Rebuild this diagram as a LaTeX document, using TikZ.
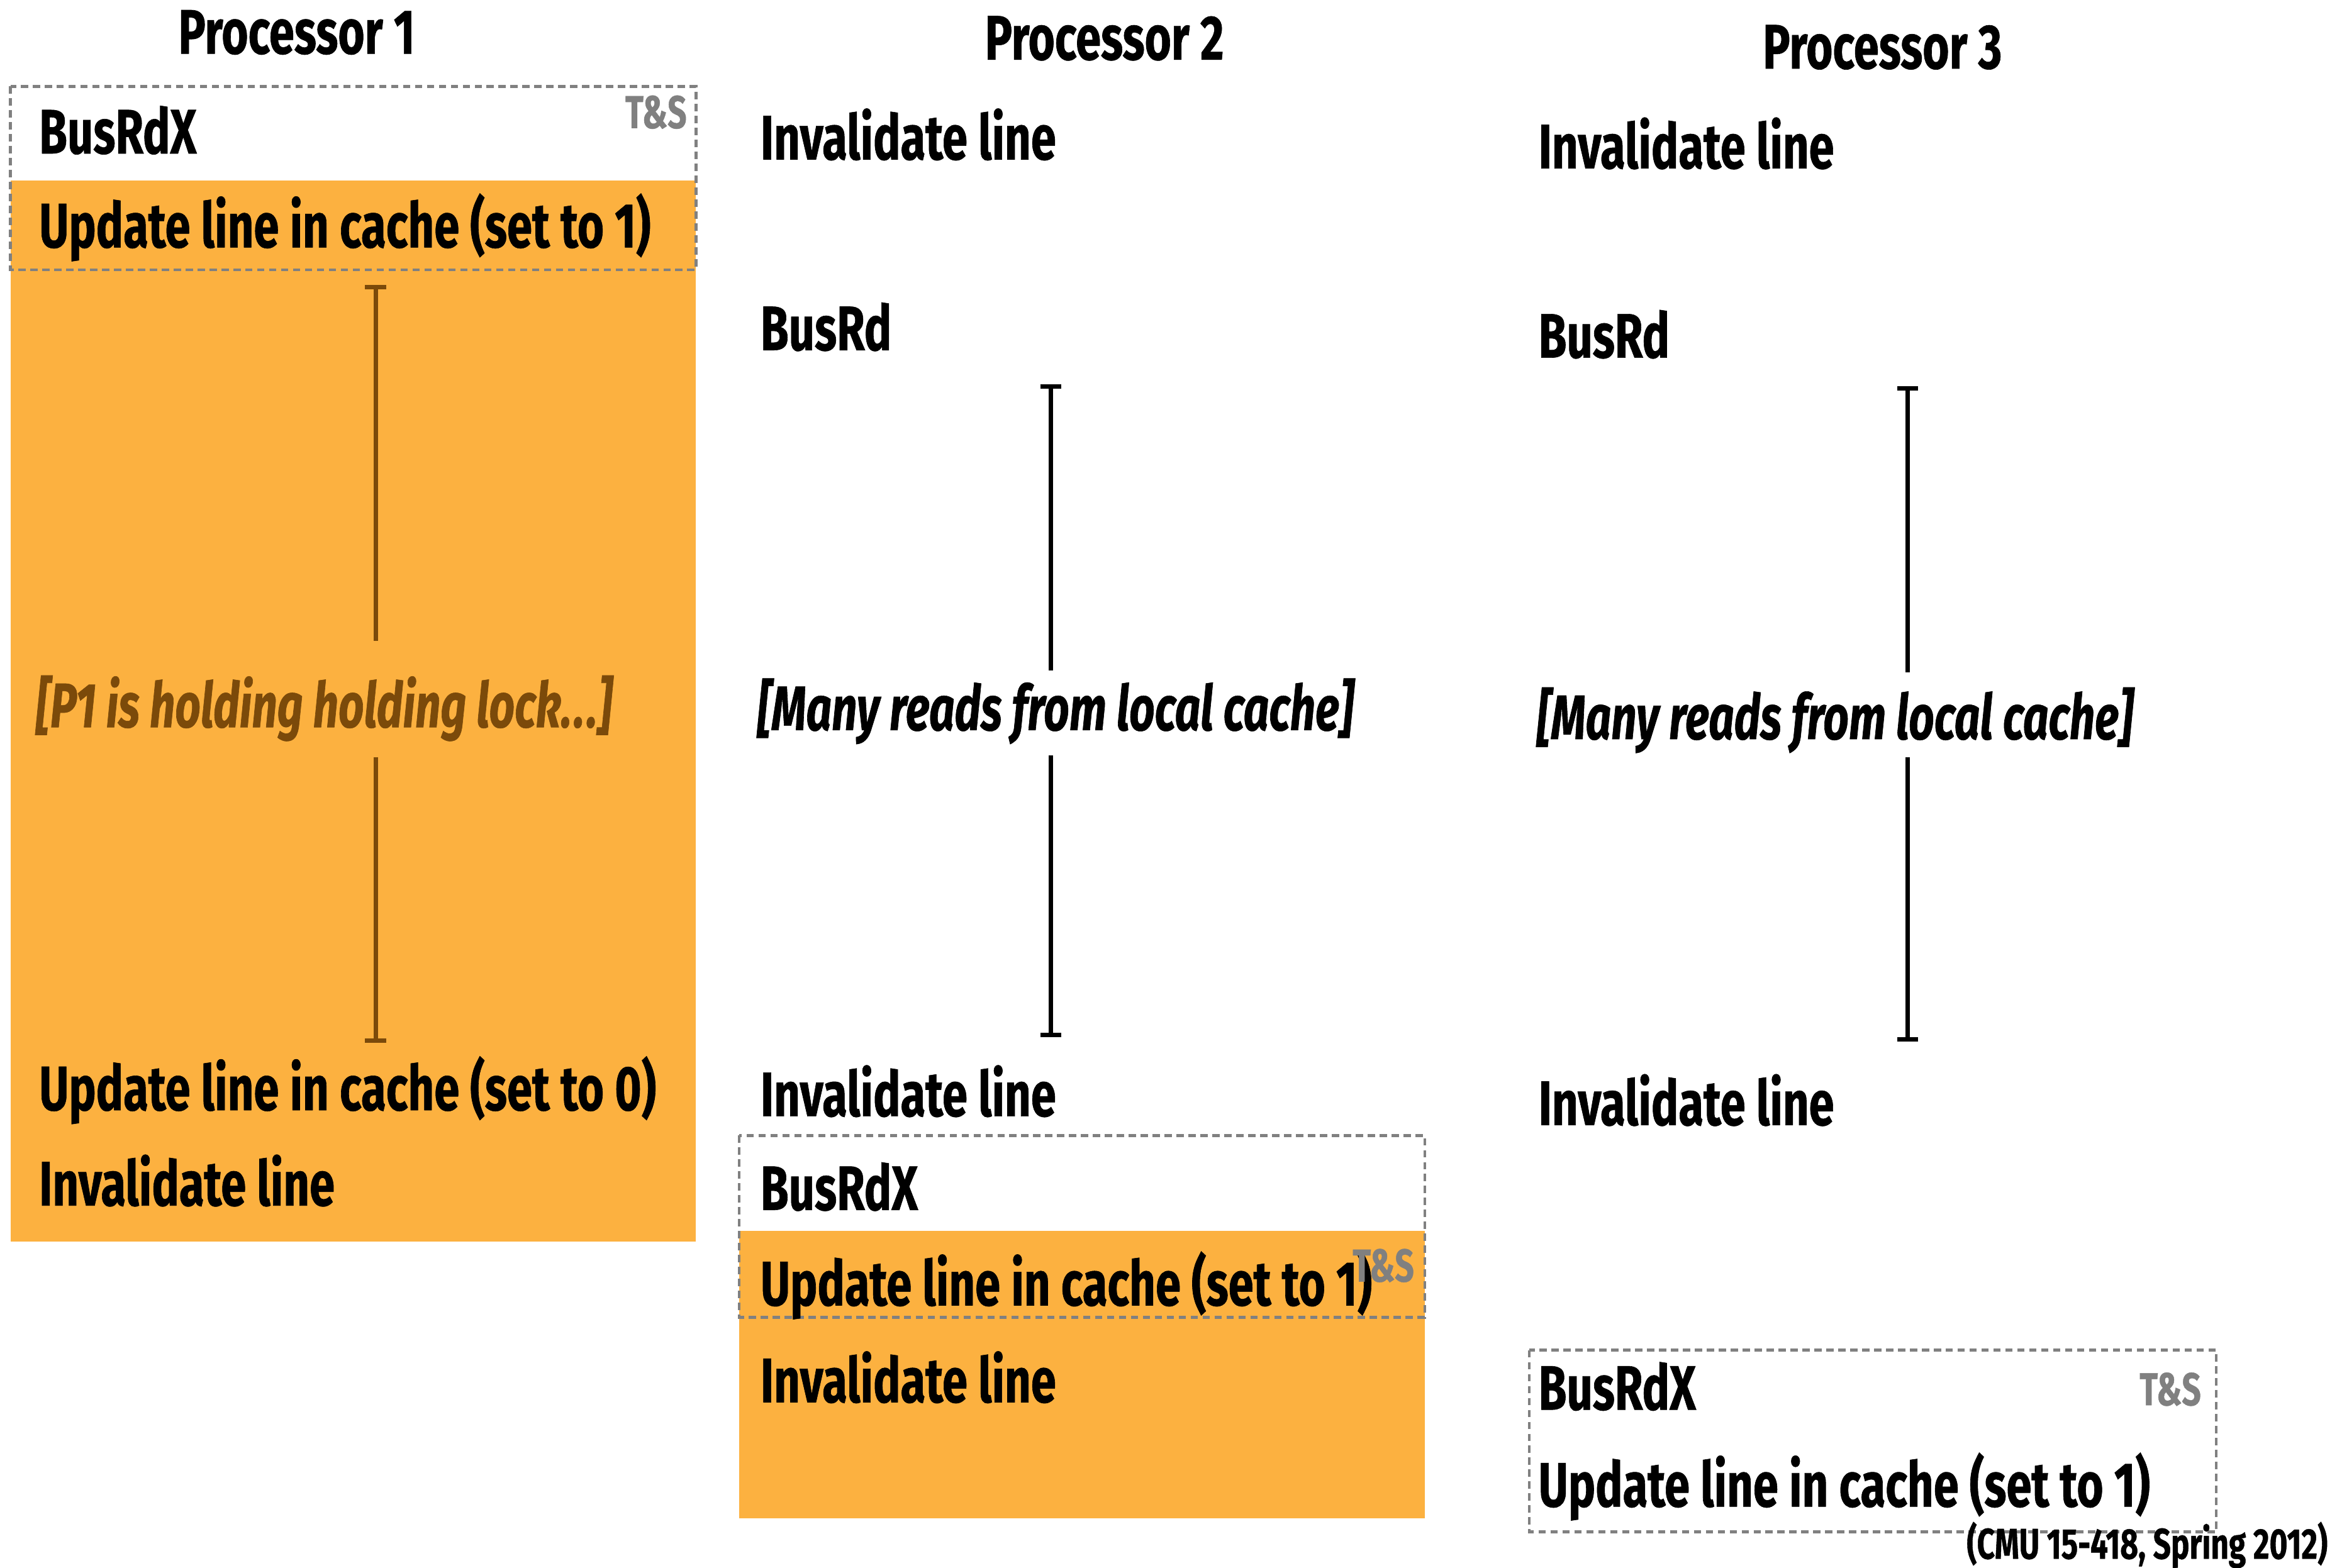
\documentclass[tikz,border=0pt]{standalone}
\usepackage{fontspec}
\setmainfont{Fira Sans}[FakeStretch=0.725,
  BoldFeatures={FakeStretch=0.725,FakeBold=0.6},
  BoldItalicFeatures={FakeStretch=0.71,FakeBold=0.6}]
\usetikzlibrary{arrows.meta}
\definecolor{lockorange}{RGB}{252,177,64}
\definecolor{lockbrown}{RGB}{123,74,10}
\definecolor{dashgray}{RGB}{128,128,128}
\begin{document}
\begin{tikzpicture}[x=0.025cm,y=-0.025cm,
  txt/.style={font=\bfseries\fontsize{30}{36}\selectfont, inner sep=0pt, anchor=base west},
  ital/.style={txt, font=\bfseries\itshape\fontsize{30}{36}\selectfont},
  title/.style={font=\bfseries\fontsize{30}{36}\selectfont, inner sep=0pt, anchor=base},
  ts/.style={font=\bfseries\fontsize{22}{26}\selectfont, text=dashgray, inner sep=0pt, anchor=base east},
  note/.style={font=\bfseries\fontsize{20.5}{24}\selectfont, inner sep=0pt, anchor=base east},
  tsbox/.style={draw=dashgray, line width=1.4pt, dash pattern=on 3.5pt off 2.2pt},
  crit/.style={fill=lockorange},
  ibar/.style={line width=2.1pt},
  ibartop/.style={ibar, {Bar[width=10pt,line width=2.1pt]}-},
  ibarbot/.style={ibar, -{Bar[width=10pt,line width=2.1pt]}},
]
\useasboundingbox (0,0) rectangle (1568,1052);

% critical-section backgrounds
\path[crit] (7,121) rectangle (467,833);
\path[crit] (496,826) rectangle (956,1019);

% test-and-set boxes
\draw[tsbox] (7,58) rectangle (467,181);
\draw[tsbox] (496,762) rectangle (956,884);
\draw[tsbox] (1026,906) rectangle (1487,1028);

% titles
\node[title] (t1) at (199,36) {Processor 1};
\node[title] (t2) at (741,40) {Processor 2};
\node[title] (t3) at (1263,46) {Processor 3};

% Processor 1
\node[txt] (p1a) at (26,103) {BusRdX};
\node[ts]  (p1ts) at (461,86) {T\&S};
\node[txt] (p1b) at (26,166) {Update line in cache (set to 1)};
\node[ital, text=lockbrown] (p1hold) at (24,488) {[P1 is holding holding lock.\kern1pt.\kern1pt.]};
\node[txt] (p1c) at (26,745) {Update line in cache (set to 0)};
\node[txt] (p1d) at (26,809) {Invalidate line};
\coordinate (p1u0) at (252,191);
\coordinate (p1u1) at (252,430);
\coordinate (p1l0) at (252,508);
\coordinate (p1l1) at (252,700);
\draw[ibartop, lockbrown] (p1u0) -- (p1u1);
\draw[ibarbot, lockbrown] (p1l0) -- (p1l1);

% Processor 2
\node[txt] (p2a) at (510,107) {Invalidate line};
\node[txt] (p2b) at (510,235) {BusRd};
\node[ital] (p2many) at (508,490) {[Many reads from local cache]};
\node[txt] (p2c) at (510,749) {Invalidate line};
\node[txt] (p2d) at (510,812) {BusRdX};
\node[txt] (p2e) at (510,876) {Update line in cache (set to 1)};
\node[ts]  (p2ts) at (949,860) {T\&S};
\node[txt] (p2f) at (510,941) {Invalidate line};
\coordinate (p2u0) at (705,258);
\coordinate (p2u1) at (705,450);
\coordinate (p2l0) at (705,507);
\coordinate (p2l1) at (705,696);
\draw[ibartop] (p2u0) -- (p2u1);
\draw[ibarbot] (p2l0) -- (p2l1);

% Processor 3
\node[txt] (p3a) at (1032,113) {Invalidate line};
\node[txt] (p3b) at (1032,240) {BusRd};
\node[ital] (p3many) at (1031,496) {[Many reads from local cache]};
\node[txt] (p3c) at (1032,755) {Invalidate line};
\node[txt] (p3d) at (1032,946) {BusRdX};
\node[ts]  (p3ts) at (1477,943) {T\&S};
\node[txt] (p3e) at (1032,1011) {Update line in cache (set to 1)};
\coordinate (p3u0) at (1280,259);
\coordinate (p3u1) at (1280,451);
\coordinate (p3l0) at (1280,508);
\coordinate (p3l1) at (1280,699);
\draw[ibartop] (p3u0) -- (p3u1);
\draw[ibarbot] (p3l0) -- (p3l1);

% credit
\node[note] (cmu) at (1562,1046) {(CMU 15-418, Spring 2012)};
\end{tikzpicture}
\end{document}
